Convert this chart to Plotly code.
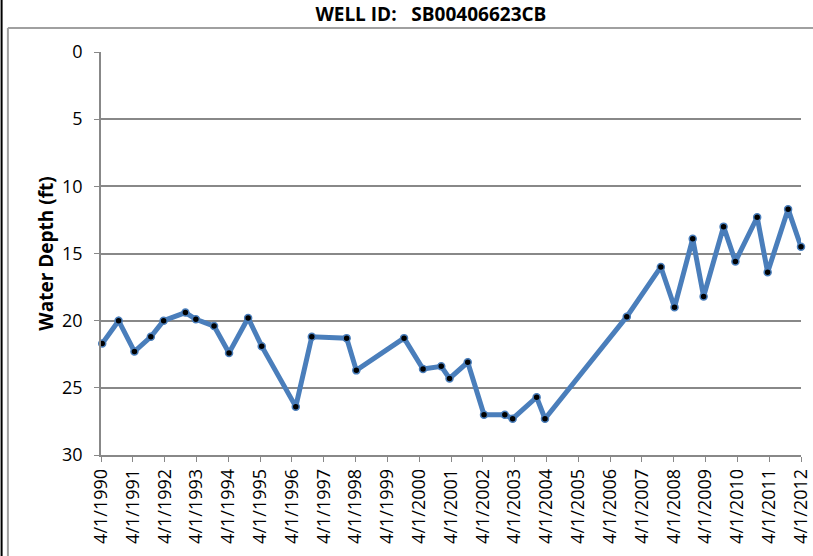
import plotly.graph_objs as go

dates = [
    '1990-04-15', '1990-10-20', '1991-04-20', '1991-10-25', '1992-03-20',
    '1992-11-25', '1993-03-25', '1993-10-20', '1994-04-10', '1994-11-15',
    '1995-04-20', '1996-05-15', '1996-11-15', '1997-12-20', '1998-04-10',
    '1999-10-10', '2000-05-15', '2000-12-10', '2001-03-15', '2001-10-10',
    '2002-04-15', '2002-12-10', '2003-03-10', '2003-12-10', '2004-03-15',
    '2006-10-10', '2007-11-05', '2008-04-10', '2008-11-05', '2009-03-10',
    '2009-10-25', '2010-03-10', '2010-11-15', '2011-03-15', '2011-11-05',
    '2012-04-01',
]
depth_ft = [
    21.7, 20.0, 22.3, 21.2, 20.0,
    19.4, 19.9, 20.4, 22.4, 19.8,
    21.9, 26.4, 21.2, 21.3, 23.7,
    21.3, 23.6, 23.4, 24.3, 23.1,
    27.0, 27.0, 27.3, 25.7, 27.3,
    19.7, 16.0, 19.0, 13.9, 18.2,
    13.0, 15.6, 12.3, 16.4, 11.7,
    14.5,
]
tick_years = list(range(1990, 2013))
tick_vals = ['%d-04-01' % y for y in tick_years]
tick_text = ['4/1/%d' % y for y in tick_years]

blue = '#4A7EBB'
grey = '#888888'

fig = go.Figure()
fig.add_trace(
    go.Scatter(x=dates, y=depth_ft, mode='lines+markers', name='Water Depth',
               line=dict(color=blue, width=5),
               marker=dict(color='black', size=7, line=dict(color=blue, width=1.5)),
               cliponaxis=False)
)

fig.update_layout(
    template='none',
    width=813, height=556,
    margin=dict(l=101, r=12, t=52, b=101),
    paper_bgcolor='white', plot_bgcolor='white',
    showlegend=False,
    font=dict(family='Open Sans', size=18, color='black'),
    title=dict(text='<b>WELL ID:   SB00406623CB</b>', x=0.53, xanchor='center',
               y=0.975, yanchor='middle', font=dict(family='Open Sans', size=19)),
    xaxis=dict(type='date', range=['1990-04-01', '2012-04-01'],
               tickmode='array', tickvals=tick_vals, ticktext=tick_text,
               tickangle=-90, ticks='outside', ticklen=5, tickcolor=grey,
               showline=True, linecolor=grey, linewidth=1.5,
               showgrid=False, zeroline=False, automargin=False,
               ticklabeloverflow='allow',
               tickfont=dict(family='Open Sans', size=18)),
    yaxis=dict(range=[30, 0], tick0=0, dtick=5, ticks='outside', ticklen=5,
               tickcolor=grey, showline=True, linecolor=grey, linewidth=1.5,
               showgrid=True, gridcolor=grey, gridwidth=1.5, zeroline=False,
               automargin=False, ticklabelstandoff=8,
               title=dict(text='<b>Water Depth (ft)</b>', standoff=3,
                          font=dict(family='Open Sans', size=19)),
               tickfont=dict(family='Open Sans', size=18)),
)

# chart frame and sheet edge
fig.add_shape(type='line', xref='paper', yref='paper',
              x0=-0.133, x1=1.03, y0=1.0596, y1=1.0596,
              line=dict(color='#A0A0A0', width=2))
fig.add_shape(type='line', xref='paper', yref='paper',
              x0=-0.133, x1=-0.133, y0=1.0596, y1=-0.26,
              line=dict(color='#A0A0A0', width=2))
fig.add_shape(type='line', xref='paper', yref='paper',
              x0=-0.142, x1=-0.142, y0=1.2, y1=-0.26,
              line=dict(color='black', width=2))

# page body has a default margin; drop it so the figure fills the window
fig.write_html('out.html', config={'displayModeBar': False},
               post_script="document.body.style.margin='0';")
